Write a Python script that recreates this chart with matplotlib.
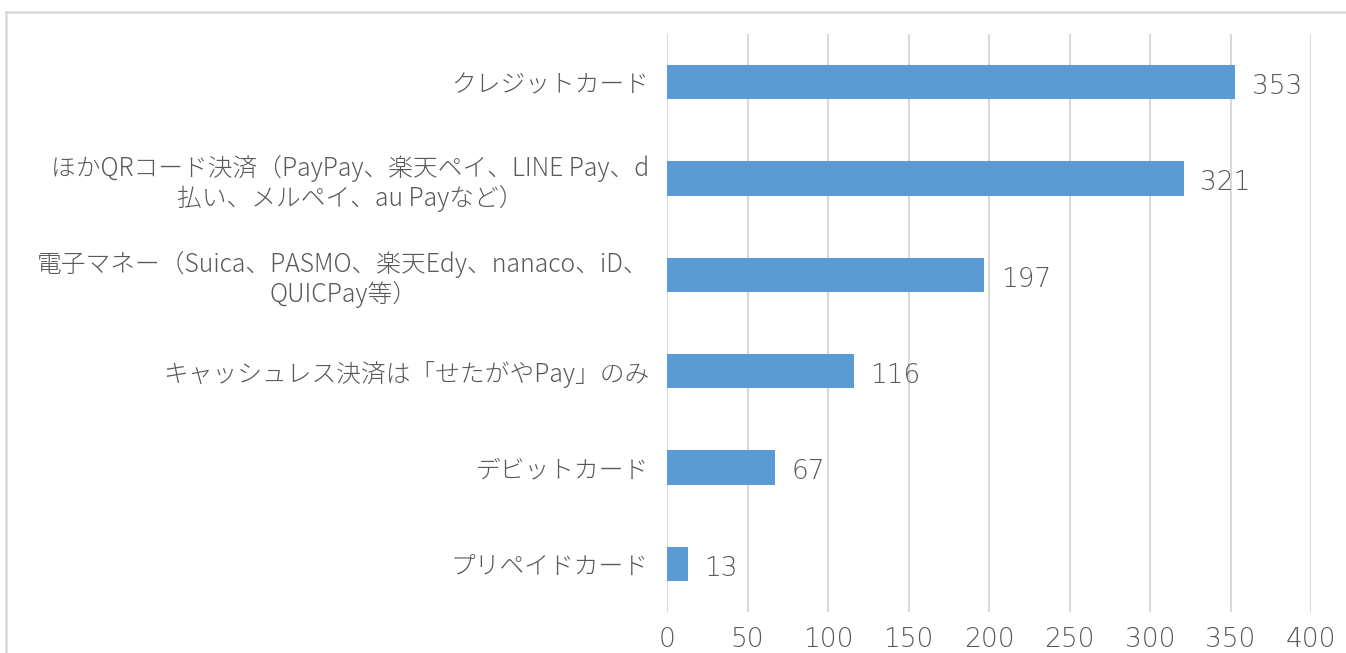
import matplotlib
matplotlib.use("Agg")
import matplotlib.pyplot as plt
from matplotlib.lines import Line2D

plt.rcParams['font.family'] = ['Noto Sans CJK JP', 'DejaVu Sans']

categories = [
    "クレジットカード",
    "ほかQRコード決済（PayPay、楽天ペイ、LINE Pay、d\n払い、メルペイ、au Payなど）",
    "電子マネー（Suica、PASMO、楽天Edy、nanaco、iD、\nQUICPay等）",
    "キャッシュレス決済は「せたがやPay」のみ",
    "デビットカード",
    "プリペイドカード",
]
values = [353, 321, 197, 116, 67, 13]
x_ticks = [0, 50, 100, 150, 200, 250, 300, 350, 400]

BAR_COLOR = "#5B9BD5"
GRID_COLOR = "#D9D9D9"
TEXT_COLOR = "#595959"
NUM_FONT = ["DejaVu Sans"]

W, H = 1346, 653
fig = plt.figure(figsize=(W / 100, H / 100), dpi=100)
ax = fig.add_axes([667 / W, 1 - 612 / H, (1311 - 667) / W, (612 - 34) / H])

ypos = list(range(len(categories)))
bars = ax.barh(ypos, values, height=0.353, color=BAR_COLOR, zorder=3)
ax.set_ylim(len(categories) - 0.5, -0.5)
ax.set_xlim(0, 400)

ax.set_yticks(ypos)
ax.set_yticklabels(categories, fontsize=17.8, color=TEXT_COLOR,
                   multialignment='center', linespacing=1.15,
                   fontweight='light')
ax.set_xticks(x_ticks)
ax.set_xticklabels([str(t) for t in x_ticks], fontsize=19, color=TEXT_COLOR,
                   family=NUM_FONT, fontweight='light')
ax.tick_params(axis='both', length=0)
ax.tick_params(axis='y', pad=13)
ax.tick_params(axis='x', pad=11)

ax.grid(axis='x', color=GRID_COLOR, linewidth=1.5, zorder=0)
ax.grid(axis='y', visible=False)
for s in ax.spines.values():
    s.set_visible(False)

labels = ax.bar_label(bars, labels=[str(v) for v in values], padding=12,
                      fontsize=19, color=TEXT_COLOR, family=NUM_FONT,
                      fontweight='light')
for t in labels:
    t.xyann = (12, -3)

# outer chart frame (top and left edges)
fig.add_artist(Line2D([6 / W, 1], [1 - 12 / H, 1 - 12 / H],
                      color=GRID_COLOR, linewidth=1.8, transform=fig.transFigure))
fig.add_artist(Line2D([6 / W, 6 / W], [1 - 12 / H, 0],
                      color=GRID_COLOR, linewidth=1.8, transform=fig.transFigure))

fig.savefig("out.png", dpi=100, facecolor="white")
